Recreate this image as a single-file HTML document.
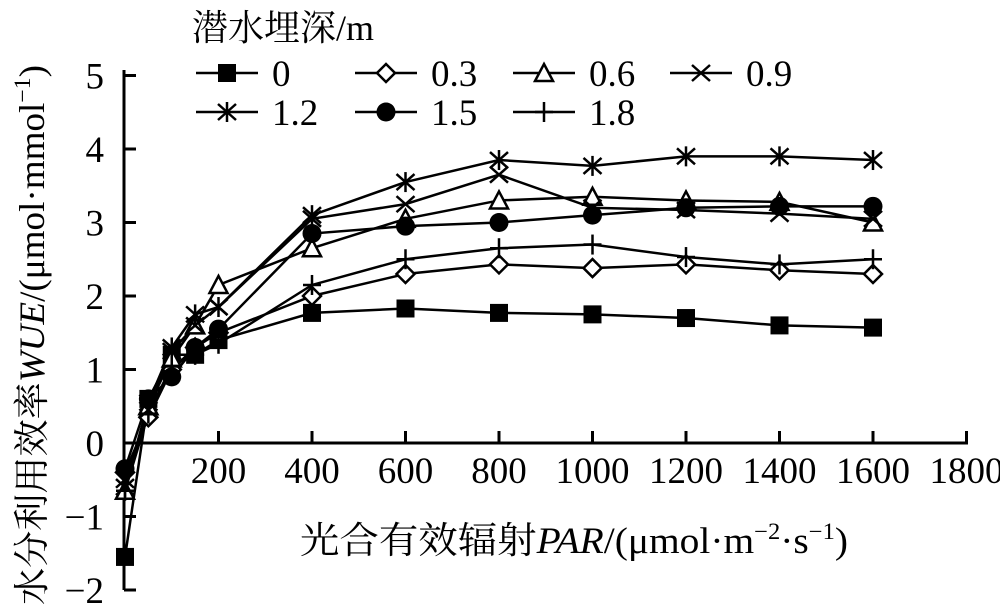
<!DOCTYPE html><html><head><meta charset="utf-8"><style>body{margin:0;background:#fff}svg text{font-family:"Liberation Serif","Noto Serif CJK SC",serif;fill:#000}</style></head><body>
<svg width="1000" height="611" viewBox="0 0 1000 611" xmlns="http://www.w3.org/2000/svg">
<g stroke="#000" stroke-width="3" fill="none">
<line x1="124" y1="70" x2="124" y2="590"/>
<line x1="124" y1="443" x2="968" y2="443"/>
</g>
<g id="ticks" stroke="#000" stroke-width="3"></g>
<g id="labels" font-size="37"></g>
<g id="series"></g>
<text x="192" y="40" font-size="36">潜水埋深/m</text>
<g id="legend" font-size="37"></g>
<text transform="translate(44,605) rotate(-90)" font-size="36" textLength="540" lengthAdjust="spacingAndGlyphs">水分利用效率<tspan font-style="italic">WUE</tspan>/(μmol·mmol<tspan font-size="23" dy="-14">−1</tspan><tspan dy="14">)</tspan></text>
<text x="300" y="553" font-size="37" textLength="548" lengthAdjust="spacingAndGlyphs">光合有效辐射<tspan font-style="italic">PAR</tspan>/(μmol·m<tspan font-size="23" dy="-14">−2</tspan><tspan dy="14">·s</tspan><tspan font-size="23" dy="-14">−1</tspan><tspan dy="14">)</tspan></text>
</svg>
<script>
const NS="http://www.w3.org/2000/svg";
const X=v=>125+v*93.5/200, Y=v=>443-v*73.5;
function el(t,a,p){const e=document.createElementNS(NS,t);for(const k in a)e.setAttribute(k,a[k]);p.appendChild(e);return e}
const tk=document.getElementById('ticks'),lb=document.getElementById('labels');
for(let v=-2;v<=5;v++){el('line',{x1:124,x2:136,y1:Y(v),y2:Y(v)},tk);const t=el('text',{x:104,y:Y(v)+13,'text-anchor':'end'},lb);t.textContent=(v<0?'−':'')+Math.abs(v);}
for(let v=200;v<=1800;v+=200){el('line',{x1:X(v),x2:X(v),y1:443,y2:431},tk);const t=el('text',{x:X(v),y:483,'text-anchor':'middle'},lb);t.textContent=v;}
const xs=[0,50,100,150,200,400,600,800,1000,1200,1400,1600];
const S=[
['sq',[-1.55,0.6,1.2,1.2,1.4,1.77,1.83,1.77,1.75,1.7,1.6,1.57]],
['di',[-0.4,0.35,1.0,1.3,1.5,2.0,2.3,2.43,2.38,2.43,2.35,2.3]],
['tr',[-0.65,0.5,1.15,1.6,2.15,2.65,3.05,3.3,3.35,3.3,3.28,3.0]],
['x',[-0.5,0.45,1.25,1.6,1.85,3.05,3.25,3.65,3.2,3.17,3.12,3.05]],
['st',[-0.6,0.55,1.3,1.75,1.85,3.1,3.55,3.85,3.77,3.9,3.9,3.85]],
['ci',[-0.35,0.6,0.9,1.3,1.55,2.85,2.95,3.0,3.1,3.2,3.22,3.22]],
['pl',[-0.65,0.4,1.05,1.2,1.35,2.15,2.5,2.65,2.7,2.53,2.43,2.5]]];
function mk(type,x,y,g){const s={stroke:'#000','stroke-width':2.5};
if(type=='sq')el('rect',{x:x-9,y:y-9,width:18,height:18,fill:'#000'},g);
if(type=='di')el('polygon',Object.assign({points:`${x},${y-9} ${x+9},${y} ${x},${y+9} ${x-9},${y}`,fill:'#fff'},s),g);
if(type=='tr')el('polygon',Object.assign({points:`${x},${y-9} ${x+9},${y+8} ${x-9},${y+8}`,fill:'#fff'},s),g);
if(type=='x'){el('line',Object.assign({x1:x-9,y1:y-8,x2:x+9,y2:y+8},s),g);el('line',Object.assign({x1:x-9,y1:y+8,x2:x+9,y2:y-8},s),g);}
if(type=='st'){el('line',Object.assign({x1:x-9,y1:y-8,x2:x+9,y2:y+8},s),g);el('line',Object.assign({x1:x-9,y1:y+8,x2:x+9,y2:y-8},s),g);el('line',Object.assign({x1:x,y1:y-10,x2:x,y2:y+10},s),g);}
if(type=='ci')el('circle',{cx:x,cy:y,r:9.5,fill:'#000'},g);
if(type=='pl'){el('line',Object.assign({x1:x-9,y1:y,x2:x+9,y2:y},s),g);el('line',Object.assign({x1:x,y1:y-10,x2:x,y2:y+10},s),g);}}
const sg=document.getElementById('series');
S.forEach(([t,d])=>{el('polyline',{points:d.map((v,i)=>X(xs[i])+','+Y(v)).join(' '),fill:'none',stroke:'#000','stroke-width':2.5},sg);});
S.forEach(([t,d])=>d.forEach((v,i)=>mk(t,X(xs[i]),Y(v),sg)));
const lg=document.getElementById('legend');
const L=[['sq','0',196,73],['di','0.3',355,73],['tr','0.6',513,73],['x','0.9',670,73],['st','1.2',196,112],['ci','1.5',355,112],['pl','1.8',513,112]];
L.forEach(([t,n,x,y])=>{el('line',{x1:x,x2:x+62,y1:y,y2:y,stroke:'#000','stroke-width':2.5},lg);mk(t,x+31,y,lg);const e=el('text',{x:x+76,y:y+13},lg);e.textContent=n;});
</script>
</body></html>
